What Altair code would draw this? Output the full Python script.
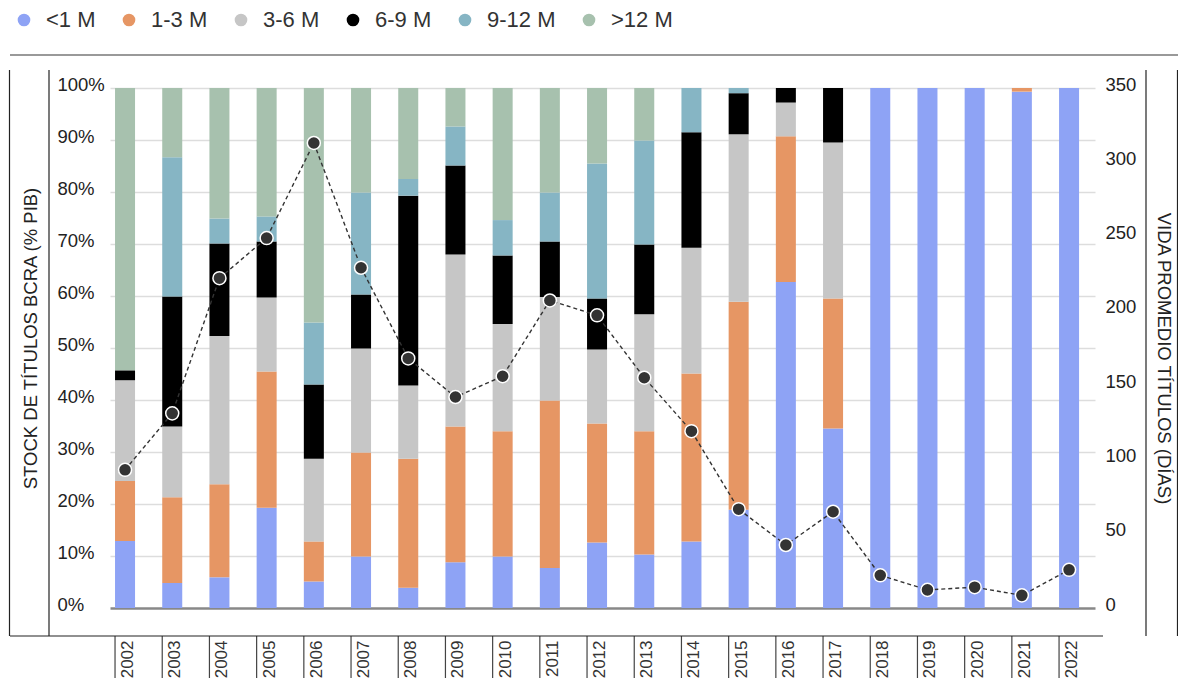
import altair as alt
import pandas as pd

years = [str(y) for y in range(2002, 2023)]
categories = ["<1 M", "1-3 M", "3-6 M", "6-9 M", "9-12 M", ">12 M"]
colors = ["#8EA3F5", "#E69664", "#C6C6C6", "#000000", "#86B5C4", "#A7C1AE"]

lt_1m = [12.9, 4.8, 5.9, 19.3, 5.1, 9.9, 3.9, 8.8, 9.9, 7.7, 12.6, 10.3, 12.8, 18.9, 62.7, 34.5, 100, 100, 100, 99.3, 100]
m1_3 = [11.5, 16.5, 17.9, 26.2, 7.7, 20.0, 24.8, 26.1, 24.1, 32.2, 22.9, 23.7, 32.3, 40.0, 28.0, 25.0, 0, 0, 0, 0.7, 0]
m3_6 = [19.4, 13.6, 28.5, 14.2, 15.9, 20.0, 14.1, 33.1, 20.6, 19.9, 14.2, 22.5, 24.2, 32.2, 6.5, 30.0, 0, 0, 0, 0, 0]
m6_9 = [1.9, 25.0, 17.8, 10.8, 14.3, 10.4, 36.5, 17.1, 13.2, 10.7, 9.8, 13.4, 22.2, 7.9, 2.8, 10.5, 0, 0, 0, 0, 0]
m9_12 = [0, 26.8, 4.8, 4.8, 11.9, 19.6, 3.2, 7.5, 6.8, 9.4, 26.0, 20.0, 8.5, 1.0, 0, 0, 0, 0, 0, 0, 0]
gt_12m = [54.3, 13.3, 25.1, 24.7, 45.1, 20.1, 17.5, 7.4, 25.4, 20.1, 14.5, 10.1, 0, 0, 0, 0, 0, 0, 0, 0, 0]
vida_dias = [93, 131, 222, 249, 313, 229, 168, 142, 156, 207, 197, 155, 119, 66.5, 42.4, 64.8, 22, 12.2, 14, 8.5, 25.7]

series = [lt_1m, m1_3, m3_6, m6_9, m9_12, gt_12m]
rows = []
for ci, (cat, vals) in enumerate(zip(categories, series)):
    for y, v in zip(years, vals):
        rows.append({"year": y, "cat": cat, "order": ci, "pct": v})
bars_df = pd.DataFrame(rows)
line_df = pd.DataFrame({"year": years, "dias": vida_dias})

FONT = "Liberation Sans"
W, H = 985, 520

xscale = alt.Scale(domain=years, paddingInner=0.576, paddingOuter=0.222, align=0.24)

bars = alt.Chart(bars_df).mark_bar().encode(
    x=alt.X("year:O", scale=xscale, sort=years,
            axis=alt.Axis(title=None, offset=28, domain=False, ticks=False, grid=False,
                          labelAngle=270, labelPadding=4, labelFontSize=17, labelOffset=3,
                          labelColor="#333", labelFont=FONT)),
    y=alt.Y("pct:Q", stack="zero",
            scale=alt.Scale(domain=[0, 100], nice=False),
            axis=alt.Axis(title="STOCK DE TÍTULOS BCRA (% PIB)", values=list(range(0, 101, 10)),
                          labelExpr="datum.value + '%'", domain=False, ticks=False, tickSize=0,
                          labelAlign="left", labelPadding=53, labelOffset=-4,
                          labelFontSize=18.5, labelColor="#222", labelFont=FONT,
                          gridColor=alt.condition("datum.value === 0", alt.value("#888888"), alt.value("#DDDDDD")),
                          gridWidth=alt.condition("datum.value === 0", alt.value(2.5), alt.value(1.5)),
                          titleFont=FONT, titleFontSize=18.5, titleFontWeight="normal", titleColor="#222",
                          titleAngle=270, titleX=-80, titleY=250, titleAlign="center",
                          titleBaseline="middle")),
    color=alt.Color("cat:N", scale=alt.Scale(domain=categories, range=colors),
                    legend=alt.Legend(title=None, orient="none", direction="horizontal",
                                      legendX=-97, legendY=-79, symbolType="circle",
                                      symbolSize=160, symbolStrokeWidth=0, labelFont=FONT,
                                      labelFontSize=22, labelColor="#333", labelOffset=11,
                                      columnPadding=22, padding=0)),
    order=alt.Order("order:Q"),
)

base = alt.Chart(line_df).encode(
    x=alt.X("year:O", scale=xscale, sort=years),
    y=alt.Y("dias:Q", scale=alt.Scale(domain=[0, 350], nice=False),
            axis=alt.Axis(title="VIDA PROMEDIO TÍTULOS (DÍAS)", orient="right",
                          values=list(range(0, 351, 50)), grid=False, domain=False,
                          ticks=False, tickSize=0, labelPadding=10, labelOffset=-4,
                          labelFontSize=18.5, labelColor="#222", labelFont=FONT,
                          titleFont=FONT, titleFontSize=18.5, titleFontWeight="normal",
                          titleColor="#222", titleAngle=90, titleX=68, titleY=270,
                          titleAlign="center", titleBaseline="middle")),
)
line = base.mark_line(color="#333333", strokeDash=[4, 3], strokeWidth=1.4)
points = base.mark_circle(size=170, fill="#333333", stroke="white", strokeWidth=1.5, opacity=1)

separators = alt.Chart(line_df).mark_rule(color="#444444", strokeWidth=1.2).encode(
    x=alt.X("year:O", scale=xscale, sort=years, bandPosition=0),
    y=alt.value(548), y2=alt.value(600),
)

one = alt.Data(values=[{"a": 1}])
def hline(y, x1, x2, color, w):
    return alt.Chart(one).mark_rule(color=color, strokeWidth=w).encode(
        x=alt.value(x1), x2=alt.value(x2), y=alt.value(y))
def vline(x, y1, y2, color, w):
    return alt.Chart(one).mark_rule(color=color, strokeWidth=w).encode(
        x=alt.value(x), y=alt.value(y1), y2=alt.value(y2))

frame = [
    hline(-33, -100, 1070, "#777777", 1.5),
    vline(-100.5, -18, 548, "#222222", 1.2),
    vline(-61, -18, 548, "#222222", 1.2),
    hline(548, -100, 993, "#222222", 1.2),
    vline(1036, -18, 548, "#222222", 1.2),
    vline(1067.5, -18, 548, "#222222", 1.2),
]

chart = alt.layer(bars, alt.layer(line, points), separators, *frame).resolve_scale(
    y="independent").properties(
    width=W, height=H,
    autosize=alt.AutoSizeParams(type="none"),
    padding={"left": 102, "top": 80, "right": 83, "bottom": 70},
).configure_view(stroke=None)

chart.save("out.html", embed_options={"renderer": "svg", "actions": False})
